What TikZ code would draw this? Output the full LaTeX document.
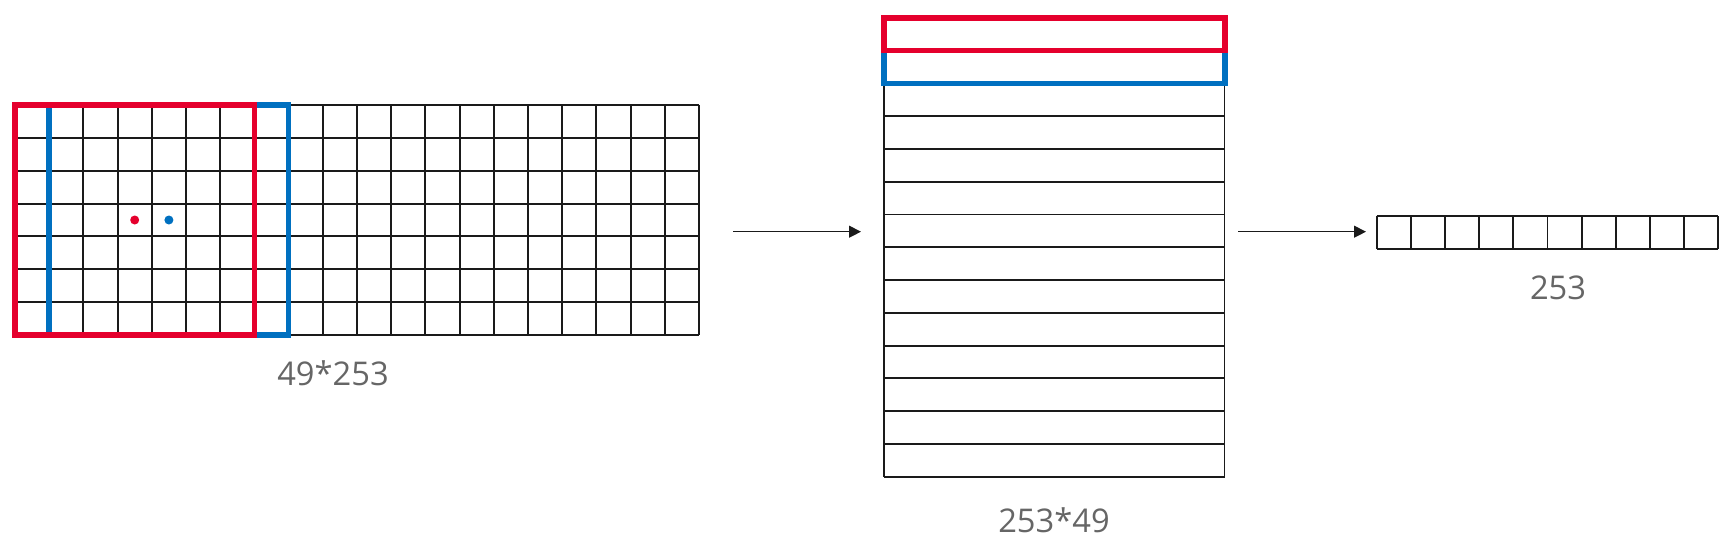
\documentclass[tikz,border=0pt]{standalone}
\usepackage{fontspec}
\setmainfont{Open Sans}
\usetikzlibrary{arrows.meta}
\definecolor{myred}{HTML}{E5002D}
\definecolor{myblue}{HTML}{0070C0}
\definecolor{mygray}{HTML}{666666}
\definecolor{myblack}{HTML}{1A1A1A}
\tikzset{
  gridline/.style={draw=myblack, line width=1.4pt},
  hilite/.style={line width=4.2pt},
  conn/.style={draw=myblack, line width=0.8pt, -{Triangle[length=9pt,width=9pt]}},
  lbl/.style={text=mygray, font=\fontsize{24.5}{29}\selectfont, inner sep=0pt},
}
\begin{document}
\begin{tikzpicture}[x=0.75pt,y=-0.75pt]
\useasboundingbox (0,0) rectangle (1723,542);
% left grid 20 x 7
\foreach \i in {0,...,20} \draw[gridline] (15+\i*34.2,105) -- (15+\i*34.2,335);
\foreach \j in {0,...,7} \draw[gridline] (15,105+\j*32.857) -- (699,105+\j*32.857);
\draw[hilite, myblue] (49.2,105) rectangle (288.4,335);
\draw[hilite, myred] (15,105) rectangle (254.4,335);
\fill[myred] (134.7,220) circle (4.5);
\fill[myblue] (168.9,220) circle (4.5);
\node[lbl] (l1) at (333,373) {49*253};
% middle column 14 rows
\foreach \j in {0,...,14} \draw[gridline] (884,17.8+\j*32.78) -- (1224.5,17.8+\j*32.78);
\draw[gridline] (884,17.8) -- (884,476.7);
\draw[gridline] (1224.5,17.8) -- (1224.5,476.7);
\draw[hilite, myblue] (884,50.6) rectangle (1224.8,83.4);
\draw[hilite, myred] (884,17.8) rectangle (1224.8,50.6);
\node[lbl] (l2) at (1054,520) {253*49};
% right strip 10 cells
\foreach \i in {0,...,10} \draw[gridline] (1376.7+\i*34.16,216) -- (1376.7+\i*34.16,249);
\draw[gridline] (1376.7,216) -- (1718.3,216);
\draw[gridline] (1376.7,249) -- (1718.3,249);
\node[lbl] (l3) at (1558,288) {253};
% arrows
\coordinate (a1s) at (733,231.7);
\coordinate (a1e) at (861,231.7);
\coordinate (a2s) at (1238,231.7);
\coordinate (a2e) at (1366,231.7);
\draw[conn] (a1s) -- (a1e);
\draw[conn] (a2s) -- (a2e);
\end{tikzpicture}
\end{document}
